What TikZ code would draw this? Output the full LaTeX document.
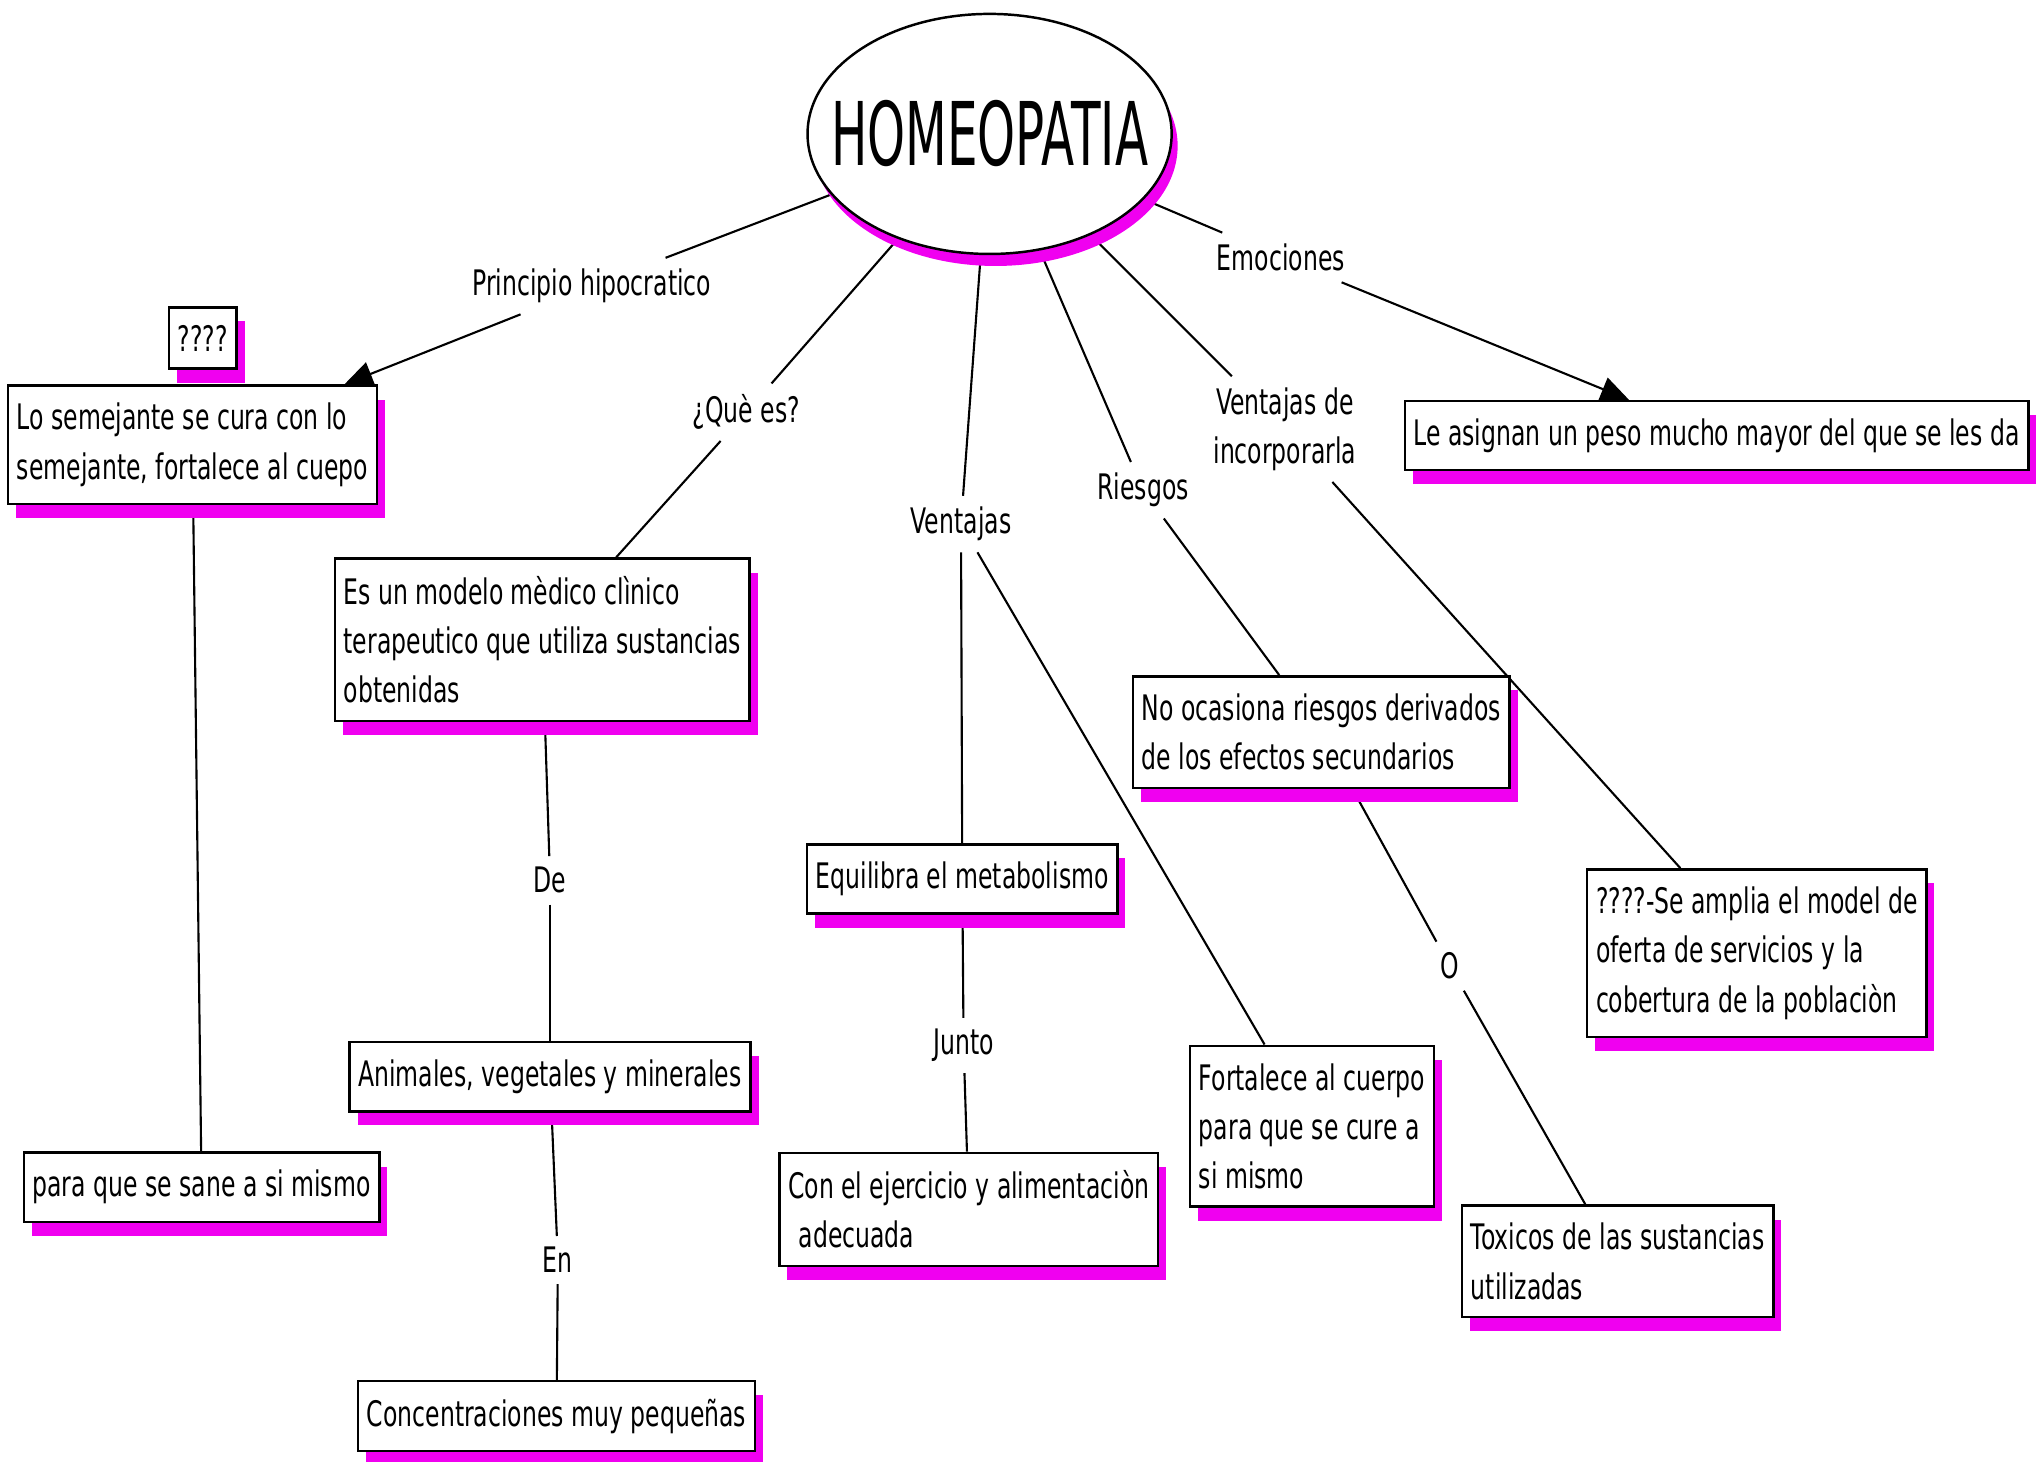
\documentclass[tikz,border=0pt]{standalone}
\usepackage{fontspec}
\setmainfont{DejaVu Sans}[FakeStretch=0.67]
\newfontfamily\titlefont{DejaVu Sans}[FakeStretch=0.55]
\usetikzlibrary{shapes.geometric,shadows,arrows.meta}
\definecolor{sombra}{RGB}{240,0,240}
\pgfdeclarelayer{fondo}
\pgfsetlayers{fondo,main}

\begin{document}
\begin{tikzpicture}[x=0.013cm,y=-0.013cm,
font=\fontsize{10}{14}\selectfont,
concepto/.style={draw,fill=white,line width=0.7pt,align=left,inner xsep=2.5pt,inner ysep=5pt,
	drop shadow={fill=sombra,opacity=1,shadow xshift=0.08cm,shadow yshift=-0.14cm}},
tema/.style={ellipse,draw,fill=white,line width=0.7pt,inner sep=0pt,minimum width=3.64cm,minimum height=2.4cm,
	drop shadow={fill=sombra,opacity=1,shadow xshift=0.06cm,shadow yshift=-0.12cm}},
enlace/.style={align=center,inner sep=3pt},
linea/.style={line width=0.6pt},
flecha/.style={linea,-{Triangle[length=8pt,width=7pt]}}]
\path[use as bounding box] (0,0) rectangle (1568,1124);

%tema central
\node[tema] (homeo) at (761,103) {\titlefont\fontsize{25}{30}\selectfont\makebox[0pt]{HOMEOPATIA}};

%conceptos
\node[concepto] (preg) at (156,260) {????};
\node[concepto] (seme) at (148,342) {Lo semejante se cura con lo\\semejante, fortalece al cuepo};
\node[concepto] (sane) at (155,913) {para que se sane a si mismo};
\node[concepto] (model) at (417,492) {Es un modelo mèdico clìnico\\terapeutico que utiliza sustancias\\obtenidas};
\node[concepto] (anim) at (423,828) {Animales, vegetales y minerales};
\node[concepto] (conc) at (428,1089) {Concentraciones muy pequeñas};
\node[concepto] (equil) at (740,676) {Equilibra el metabolismo};
\node[concepto] (ejer) at (745,930) {Con el ejercicio y alimentaciòn\\\hspace*{0.3em}adecuada};
\node[concepto] (fort) at (1009,866) {Fortalece al cuerpo\\para que se cure a\\si mismo};
\node[concepto] (riesg) at (1016,563) {No ocasiona riesgos derivados\\de los efectos secundarios};
\node[concepto] (toxi) at (1244,970) {Toxicos de las sustancias\\utilizadas};
\node[concepto] (ampl) at (1351,733) {????-Se amplia el model de\\oferta de servicios y la\\cobertura de la poblaciòn};
\node[concepto] (peso) at (1320,335) {Le asignan un peso mucho mayor del que se les da};

%palabras de enlace
\node[enlace] (princ) at (455,220) {Principio hipocratico};
\node[enlace] (que) at (574,317) {¿Què es?};
\node[enlace] (vent) at (739,403) {Ventajas};
\node[enlace] (ries) at (879,377) {Riesgos};
\node[enlace] (incorp) at (988,330) {Ventajas de\\incorporarla};
\node[enlace] (emoc) at (985,198) {Emociones};
\node[enlace] (de) at (423,677) {De};
\node[enlace] (en) at (429,969) {En};
\node[enlace] (junto) at (741,804) {Junto};
\node[enlace] (o) at (1115,743) {O};

%conectores
\begin{pgfonlayer}{fondo}
\foreach \desde/\enl/\hasta in {homeo/que/model,homeo/vent/equil,homeo/ries/riesg,homeo/incorp/ampl,
	model/de/anim,anim/en/conc,equil/junto/ejer,riesg/o/toxi}{
	\draw[linea] (\desde) -- (\enl);
	\draw[linea] (\enl) -- (\hasta);
}
\draw[linea] (vent) -- (fort);
\draw[linea] (seme) -- (sane);
\draw[linea] (homeo) -- (princ);
\draw[flecha] (princ) -- (seme);
\draw[linea] (homeo) -- (emoc);
\draw[flecha] (emoc) -- (peso);
\end{pgfonlayer}
\end{tikzpicture}
\end{document}
